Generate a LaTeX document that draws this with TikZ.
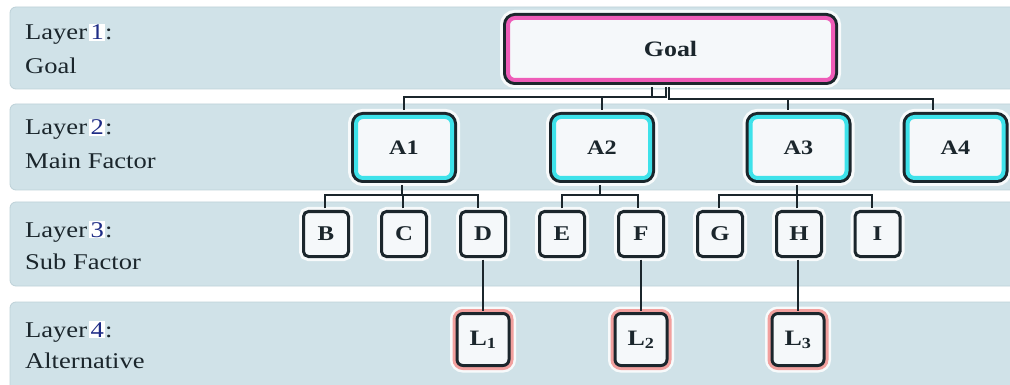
\documentclass[tikz,border=0pt]{standalone}
\usepackage{fontspec}
\usepackage{graphicx}
\setmainfont{Liberation Serif}
\usetikzlibrary{calc}

\definecolor{bandfill}{HTML}{D0E2E8}
\definecolor{bandline}{HTML}{BDD1D8}
\definecolor{ink}{HTML}{1B262C}
\definecolor{boxfill}{HTML}{F5F8FA}
\definecolor{goalpink}{HTML}{EE5CB8}
\definecolor{factorcyan}{HTML}{3EE2EA}
\definecolor{altsalmon}{HTML}{F2A09E}
\definecolor{numblue}{HTML}{1E2C86}

% slightly widened lettering
\newcommand{\wide}[1]{\scalebox{1.18}[1]{#1}}
% highlighted layer number
\newcommand{\layernum}[1]{{\setlength{\fboxsep}{1pt}\colorbox{white}{\textcolor{numblue}{#1}}}}

\tikzset{
  band/.style={fill=bandfill, draw=bandline, line width=0.8pt, rounded corners=6pt},
  layertext/.style={anchor=base west, inner sep=0pt, text=ink,
    font=\fontsize{22.5}{26}\selectfont},
  goalbox/.style={rectangle, rounded corners=7pt, inner sep=0pt,
    minimum width=325pt, minimum height=62pt,
    preaction={draw=white, line width=16pt, draw opacity=0.85},
    preaction={draw=ink, line width=10pt},
    fill=boxfill, draw=goalpink, line width=4pt,
    text=ink, font=\bfseries\fontsize{22}{24}\selectfont},
  factorbox/.style={rectangle, rounded corners=7pt, inner sep=0pt,
    minimum width=96pt, minimum height=61pt,
    preaction={draw=white, line width=16pt, draw opacity=0.85},
    preaction={draw=ink, line width=10pt},
    fill=boxfill, draw=factorcyan, line width=4pt,
    text=ink, font=\bfseries\fontsize{20.5}{24}\selectfont},
  subbox/.style={rectangle, rounded corners=5pt, inner sep=0pt,
    minimum width=45pt, minimum height=45pt,
    preaction={draw=white, line width=9pt, draw opacity=0.85},
    fill=boxfill, draw=ink, line width=3pt,
    text=ink, font=\bfseries\fontsize{21}{24}\selectfont},
  altbox/.style={rectangle, rounded corners=6pt, inner sep=0pt,
    minimum width=52pt, minimum height=52pt,
    preaction={draw=white, line width=14pt, draw opacity=0.85},
    preaction={draw=altsalmon, line width=9pt},
    fill=boxfill, draw=ink, line width=3pt,
    text=ink, font=\bfseries\fontsize{22}{24}\selectfont},
  conn/.style={draw=ink, line width=2pt},
}

\begin{document}
\begin{tikzpicture}[x=1pt, y=-1pt]
\useasboundingbox (0,0) rectangle (1010,385);

% layer bands
\begin{scope}
  \clip (0,0) rectangle (1010,385);
  \draw[band] (10,7)   rectangle (1030,89);
  \draw[band] (10,104) rectangle (1030,190);
  \draw[band] (10,202) rectangle (1030,286);
  \draw[band] (10,302) rectangle (1030,400);
\end{scope}

% layer captions
\node[layertext] (cap1a) at (25,40)  {\wide{Layer\hspace{2pt}\layernum{1}:}};
\node[layertext] (cap1b) at (25,74)  {\wide{Goal}};
\node[layertext] (cap2a) at (25,135) {\wide{Layer\hspace{2pt}\layernum{2}:}};
\node[layertext] (cap2b) at (25,169) {\wide{Main Factor}};
\node[layertext] (cap3a) at (25,237) {\wide{Layer\hspace{2pt}\layernum{3}:}};
\node[layertext] (cap3b) at (25,269) {\wide{Sub Factor}};
\node[layertext] (cap4a) at (25,337) {\wide{Layer\hspace{2pt}\layernum{4}:}};
\node[layertext] (cap4b) at (25,368) {\wide{Alternative}};

% hierarchy nodes
\node[goalbox] (Goal) at (670.5,49) {\wide{Goal}};

\node[factorbox] (A1) at (404,147.5)   {\wide{A1}};
\node[factorbox] (A2) at (602,147.5)   {\wide{A2}};
\node[factorbox] (A3) at (798.5,147.5) {\wide{A3}};
\node[factorbox] (A4) at (955.5,147.5) {\wide{A4}};

\node[subbox] (B) at (326,234)   {\wide{B}};
\node[subbox] (C) at (404,234)   {\wide{C}};
\node[subbox] (D) at (483,234)   {\wide{D}};
\node[subbox] (E) at (562,234)   {\wide{E}};
\node[subbox] (F) at (641,234)   {\wide{F}};
\node[subbox] (G) at (720,234)   {\wide{G}};
\node[subbox] (H) at (799,234)   {\wide{H}};
\node[subbox] (I) at (877.5,234) {\wide{I}};

\node[altbox] (L1) at (483,339.5) {\wide{L\textsubscript{1}}};
\node[altbox] (L2) at (641,339.5) {\wide{L\textsubscript{2}}};
\node[altbox] (L3) at (798,339.5) {\wide{L\textsubscript{3}}};

% bus lines
\coordinate (busL) at (0,97);
\coordinate (busR) at (0,99);
\coordinate (busS) at (0,195);

% goal -> main factors
\draw[conn] ($(Goal.south)+(-18.5,5)$) |- (busL -| A1.north) -- ($(A1.north)+(0,-5)$);
\draw[conn] ($(Goal.south)+(-4.5,5)$) |- (busL -| A2.north) -- ($(A2.north)+(0,-5)$);
\draw[conn] ($(Goal.south)+(-1.5,5)$) |- ($(busR -| A4.north)+(-22.5,0)$) -- ($(A4.north)+(-22.5,-5)$);
\draw[conn] ($(busR -| A3.north)+(-10.5,0)$) -- ($(A3.north)+(-10.5,-5)$);

% main factors -> sub factors
\draw[conn] ($(A1.south)+(-2,5)$) -- ($(busS -| A1.south)+(-2,0)$);
\draw[conn] ($(B.north)+(-1,-1.5)$) |- ($(busS -| D.north)+(-5,0)$) -- ($(D.north)+(-5,-1.5)$);
\draw[conn] ($(C.north)+(-1,-1.5)$) -- ($(busS -| C.north)+(-1,0)$);

\draw[conn] ($(A2.south)+(-2,5)$) -- ($(busS -| A2.south)+(-2,0)$);
\draw[conn] ($(E.north)+(0,-1.5)$) |- ($(busS -| F.north)+(-3,0)$) -- ($(F.north)+(-3,-1.5)$);

\draw[conn] ($(A3.south)+(-1.5,5)$) -- ($(busS -| A3.south)+(-1.5,0)$);
\draw[conn] ($(G.north)+(-1,-1.5)$) |- ($(busS -| I.north)+(-5.5,0)$) -- ($(I.north)+(-5.5,-1.5)$);
\draw[conn] ($(H.north)+(-2,-1.5)$) -- ($(busS -| H.north)+(-2,0)$);

% sub factors -> alternatives
\draw[conn] ($(D.south)+(0,1.5)$) -- ($(L1.north)+(0,-1.5)$);
\draw[conn] ($(F.south)+(0,1.5)$) -- ($(L2.north)+(0,-1.5)$);
\draw[conn] ($(H.south)+(-1,1.5)$) -- ($(L3.north)+(0,-1.5)$);
\end{tikzpicture}
\end{document}
